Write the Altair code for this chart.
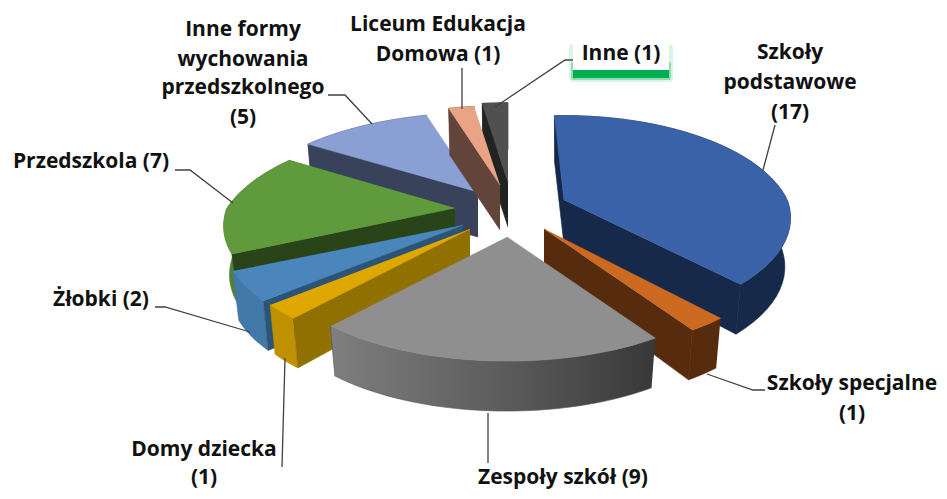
import math
import altair as alt
import pandas as pd

# ---- data, clockwise from the top of the pie
categories = ["Szkoły podstawowe", "Szkoły specjalne", "Zespoły szkół", "Domy dziecka", "Żłobki",
              "Przedszkola", "Inne formy wychowania przedszkolnego", "Liceum Edukacja Domowa", "Inne"]
values = [17, 1, 9, 1, 2, 7, 5, 1, 1]
top_colors = ["#3a62a8", "#cc6a22", "#8f8f8f", "#dfa800", "#4a86bc", "#5f9a3c", "#8a9fd4", "#e9a385", "#505050"]
cut_colors = ["#16294a", "#562b0e", "#3f3f3f", "#8f7000", "#2c5478", "#2a4419", "#38425a", "#62443a", "#222222"]
wall_colors = ["#16294a", "#562b0e", "#5c5c5c", "#bf9000", "#4279a9", "#4f8232", "#38425a", "#62443a", "#222222"]

# ---- layout of the exploded, tilted pie (page pixels)
apex_x = [564, 544, 507, 470, 463, 455, 478, 500, 508]
apex_y = [200, 229, 237, 229, 225, 208, 192, 185, 182]
# cut edges that show: "s" = start edge, "e" = end edge
shown_cuts = ["se", "e", "", "s", "s", "s", "s", "s", "s"]
draw_order = [8, 6, 7, 5, 4, 3, 0, 1, 2]
rx_scale = [0.95, 1, 1, 1, 1, 0.97, 1, 1, 1]
k_back = [0.22, 0.30, 0.30, 0.30, 0.30, 0.30, 0.30, 0.30, 0.30]
turn = [-3, 0, 0, 0, 0, 0, 0, 0, 0]
RX, RY, K_FRONT, LOW_SCALE = 235, 103, 0.17, 0.975

W, H = 931, 483
X = alt.X("x:Q", scale=alt.Scale(domain=[8, 8 + W]), axis=None)
Y = alt.Y("y:Q", scale=alt.Scale(domain=[8 + H, 8]), axis=None)


def rim(i, t_deg, drop=False):
    t = math.radians(t_deg)
    c = math.cos(t)
    p = 1 / (1 + (k_back[i] if c > 0 else K_FRONT) * c)
    dx = RX * rx_scale[i] * math.sin(t) * p
    y = apex_y[i] - RY * c * p
    if drop:
        dx *= LOW_SCALE
        y += 48.5 - 1.5 * c
    return apex_x[i] + dx, y


def poly(points, fill, stroke=None):
    df = pd.DataFrame({"x": [a for a, _ in points], "y": [b for _, b in points], "o": range(len(points))})
    return alt.Chart(df).mark_line(fill=fill, stroke=stroke or (fill if isinstance(fill, str) else "#555555"),
                                   strokeWidth=0.6).encode(X, Y, order="o:Q")


def path(points, color="#404040", width=1.3):
    df = pd.DataFrame({"x": [a for a, _ in points], "y": [b for _, b in points], "o": range(len(points))})
    return alt.Chart(df).mark_line(stroke=color, strokeWidth=width).encode(X, Y, order="o:Q")


layers = []
unit = 360 / sum(values)
starts, acc = [], 0
for v in values:
    starts.append(acc * unit)
    acc += v

gray_wall = alt.Gradient(gradient="linear", x1=0, x2=1, y1=0, y2=0, stops=[
    alt.GradientStop(color="#7e7e7e", offset=0), alt.GradientStop(color="#5e5e5e", offset=0.5),
    alt.GradientStop(color="#383838", offset=1)])

for i in draw_order:
    t0, t1 = starts[i] + turn[i], starts[i] + values[i] * unit + turn[i]
    ts = [t0 + (t1 - t0) * s / 40 for s in range(41)]
    apex = (apex_x[i], apex_y[i])
    apex_low = (apex_x[i], apex_y[i] + 45)
    wall = [rim(i, t) for t in ts] + [rim(i, t, True) for t in reversed(ts)]
    layers.append(poly(wall, gray_wall if i == 2 else wall_colors[i]))
    for edge in shown_cuts[i]:
        cut_t = t1 if edge == "e" else t0
        layers.append(poly([apex, rim(i, cut_t), rim(i, cut_t, True), apex_low], cut_colors[i]))
    layers.append(poly([apex] + [rim(i, t) for t in ts], top_colors[i]))

# leader lines
leaders = [
    [(577, 60), (565, 60), (495, 107)],
    [(462, 68), (462, 109)],
    [(328, 95), (345, 95), (372, 124)],
    [(175, 170), (190, 170), (233, 203)],
    [(155, 307), (165, 307), (250, 332)],
    [(285, 358), (282, 467)],
    [(488, 413), (488, 463)],
    [(707, 374), (753, 390), (765, 390)],
    [(775, 125), (763, 170)],
]
layers += [path(l) for l in leaders]


# "Inne (1)" label box with green shadow
def box(x0, x1, y0, y1, color, opacity=1.0, radius=0):
    df = pd.DataFrame({"x": [x0], "x2": [x1], "y": [y0], "y2": [y1]})
    return alt.Chart(df).mark_rect(color=color, opacity=opacity, cornerRadius=radius).encode(
        X, alt.X2("x2:Q"), Y, alt.Y2("y2:Q"))


layers += [box(569, 673, 44, 82, "#00b050", 0.14, 4), box(571, 671, 62, 80, "#00b050", 0.35, 2),
           box(573, 669, 64, 78, "#00b050"), box(573, 669, 38, 70, "#ffffff")]

# labels
label_text = ["Inne formy", "wychowania", "przedszkolnego", "(5)", "Liceum Edukacja", "Domowa (1)", "Inne (1)",
              "Szkoły", "podstawowe", "(17)", "Przedszkola (7)", "Żłobki (2)", "Domy dziecka", "(1)",
              "Zespoły szkół (9)", "Szkoły specjalne", "(1)"]
label_x = [243, 243, 243, 243, 438, 438, 621, 790, 790, 790, 91, 101, 204, 204, 563, 852, 852]
label_y = [30, 60, 88, 118, 25, 55, 54, 53, 83, 113, 162, 300, 450, 478, 478, 384, 414]
labels = pd.DataFrame({"x": label_x, "y": label_y, "t": label_text})
layers.append(alt.Chart(labels).mark_text(font="Open Sans", fontWeight="bold", fontSize=21, color="#111111",
                                          align="center", baseline="middle").encode(X, Y, text="t:N"))

chart = alt.layer(*layers).properties(width=W, height=H, padding=0,
                                      autosize=alt.AutoSizeParams(type="none")).configure_view(stroke=None)
chart.save("out.html", embed_options={"renderer": "svg", "actions": False})
